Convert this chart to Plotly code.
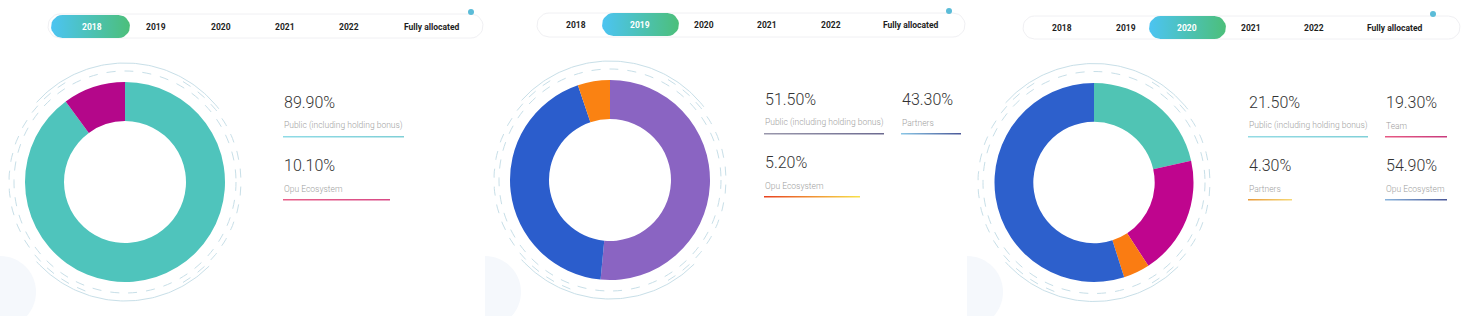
import numpy as np
import plotly.graph_objects as go

W, H = 1480, 316

# ---------------- data ----------------
tab_labels = ["2018", "2019", "2020", "2021", "2022", "Fully allocated"]

p1_labels = ["Public (including holding bonus)", "Opu Ecosystem"]
p1_values = [89.9, 10.1]

p2_labels = ["Public (including holding bonus)", "Partners", "Opu Ecosystem"]
p2_values = [51.5, 43.3, 5.2]

p3_labels = ["Public (including holding bonus)", "Team", "Partners", "Opu Ecosystem"]
p3_values = [21.5, 19.3, 4.3, 54.9]

# ---------------- style ----------------
FONT = "Roboto"
panels = [
    dict(labels=p1_labels, values=p1_values, active=0, left=0,
         colors=["#4fc4bc", "#b4078a"],
         under=[("#8fdbe6", "#7fcfd6"), ("#e8608a", "#d84a86")],
         uw=[121, 107],
         cx=125, cy=182, r=100,
         tx=[283, 283], ty=[102.5, 165.5],
         box=(48, 14, 483, 38), pill=(51, 15, 130, 38),
         tabx=[92, 156, 221, 285, 349, 432], taby=26.5, dot=(471, 12)),
    dict(labels=p2_labels, values=p2_values, active=1, left=485,
         colors=["#8a64c2", "#2b5dcc", "#fa8212"],
         under=[("#9a98ac", "#6c6a90"), ("#8ac6e6", "#4a5898"), ("#e8401e", "#f8e24a")],
         uw=[120, 60, 96],
         cx=610, cy=180, r=100,
         tx=[764, 901, 764], ty=[99.5, 99.5, 162.5],
         box=(537, 13, 965, 37), pill=(602, 13, 679, 36),
         tabx=[576, 640, 704, 767, 831, 911], taby=24.5, dot=(949, 11)),
    dict(labels=p3_labels, values=p3_values, active=2, left=967,
         colors=["#50c4b4", "#bf058e", "#fa7c12", "#2d60cc"],
         under=[("#94dbe4", "#80d0d8"), ("#e85a84", "#c83a7c"), ("#e89a3a", "#f6d876"), ("#8ab4dc", "#4a5898")],
         uw=[120, 62, 44, 62],
         cx=1094, cy=182.5, r=99.5,
         tx=[1248, 1385, 1248, 1385], ty=[102.5, 102.5, 165.5, 165.5],
         box=(1023, 16, 1460, 39), pill=(1149, 16, 1226, 39),
         tabx=[1062, 1126, 1187, 1251, 1314, 1395], taby=27.5, dot=(1433, 14)),
]
HOLE = 0.61
RING = "#c8dfe8"

fig = go.Figure()
shapes = []
annotations = []


def rounded_rect(x0, y0, x1, y1, n=14):
    r = (y1 - y0) / 2.0
    xs, ys = [], []
    t = np.linspace(-np.pi / 2, np.pi / 2, n)
    xs += list(x1 - r + r * np.cos(t)); ys += list((y0 + r) + r * np.sin(t))
    t = np.linspace(np.pi / 2, 3 * np.pi / 2, n)
    xs += list(x0 + r + r * np.cos(t)); ys += list((y0 + r) + r * np.sin(t))
    xs.append(xs[0]); ys.append(ys[0])
    return xs, ys


def arc(cx, cy, r, a0, a1, n=80):
    t = np.radians(np.linspace(a0, a1, n))
    return cx + r * np.sin(t), cy - r * np.cos(t)


def half_disc_path(cx, cy, r):
    k = 0.5523 * r
    return (f"M {cx},{cy - r} C {cx + k},{cy - r} {cx + r},{cy - k} {cx + r},{cy} "
            f"C {cx + r},{cy + k} {cx + k},{cy + r} {cx},{cy + r} Z")


for p in panels:
    cx, cy, r = p["cx"], p["cy"], p["r"]

    # faint background blob at the panel's bottom-left edge
    shapes.append(dict(type="path", xref="x", yref="y", path=half_disc_path(p["left"], 292, 36),
                       line=dict(width=0), fillcolor="#f5f8fc", layer="below"))

    # tab bar outline
    x0, y0, x1, y1 = p["box"]
    bxs, bys = rounded_rect(x0, y0, x1, y1)
    fig.add_trace(go.Scatter(x=bxs, y=bys, mode="lines", fill="toself", fillcolor="white",
                             line=dict(color="#f0f0f3", width=1), hoverinfo="skip", showlegend=False))
    # active pill with gradient
    x0, y0, x1, y1 = p["pill"]
    pxs, pys = rounded_rect(x0, y0, x1, y1)
    fig.add_trace(go.Scatter(x=pxs, y=pys, mode="lines", fill="toself",
                             fillgradient=dict(type="horizontal",
                                               colorscale=[[0, "#4cc4f2"], [1, "#4cbf7a"]]),
                             line=dict(width=0, color="rgba(0,0,0,0)"),
                             hoverinfo="skip", showlegend=False))
    for i, lab in enumerate(tab_labels):
        annotations.append(dict(x=p["tabx"][i], y=p["taby"], xref="x", yref="y", text=f"<b>{lab}</b>",
                                showarrow=False, xanchor="center", yanchor="middle",
                                font=dict(family=FONT, size=8.5,
                                          color="white" if i == p["active"] else "#1e1e1e")))
    dx, dy = p["dot"]
    shapes.append(dict(type="circle", xref="x", yref="y", x0=dx - 3, x1=dx + 3, y0=dy - 3, y1=dy + 3,
                       line=dict(width=0), fillcolor="#5bbcd8"))

    # decorative rings
    shapes.append(dict(type="circle", xref="x", yref="y", x0=cx - 111, x1=cx + 111,
                       y0=cy - 111, y1=cy + 111, line=dict(color=RING, width=1, dash="dash")))
    for a0, a1 in [(200, 330), (30, 150)]:
        ax, ay = arc(cx, cy, 116, a0, a1)
        fig.add_trace(go.Scatter(x=ax, y=ay, mode="lines", line=dict(color=RING, width=1, dash="dash"),
                                 hoverinfo="skip", showlegend=False))
    for a0, a1 in [(-48, 52), (135, 228)]:
        ax, ay = arc(cx, cy, 119, a0, a1)
        fig.add_trace(go.Scatter(x=ax, y=ay, mode="lines", line=dict(color=RING, width=1),
                                 hoverinfo="skip", showlegend=False))

    # donut
    fig.add_trace(go.Pie(
        labels=p["labels"], values=p["values"], hole=HOLE, sort=False, direction="clockwise",
        rotation=0, textinfo="none", hoverinfo="label+percent",
        marker=dict(colors=p["colors"], line=dict(width=0)),
        domain=dict(x=[(cx - r) / W, (cx + r) / W], y=[1 - (cy + r) / H, 1 - (cy - r) / H]),
        showlegend=False))

    # legend-like text blocks
    for i, (lab, val) in enumerate(zip(p["labels"], p["values"])):
        tx, ty = p["tx"][i], p["ty"][i]
        annotations.append(dict(x=tx - 1, y=ty, xref="x", yref="y", text=f"{val:.2f}%", showarrow=False,
                                xanchor="left", yanchor="middle",
                                font=dict(family=FONT, size=16, color="#333333", weight=300)))
        annotations.append(dict(x=tx - 1, y=ty + 23, xref="x", yref="y", text=lab, showarrow=False,
                                xanchor="left", yanchor="middle",
                                font=dict(family=FONT, size=8.5, color="#a0a0a0", weight=300)))
        uy = ty + 33.5
        c0, c1 = p["under"][i]
        w = p["uw"][i]
        fig.add_trace(go.Scatter(x=[tx, tx + w, tx + w, tx, tx], y=[uy, uy, uy + 1.6, uy + 1.6, uy],
                                 mode="lines", fill="toself",
                                 fillgradient=dict(type="horizontal", colorscale=[[0, c0], [1, c1]]),
                                 line=dict(width=0, color="rgba(0,0,0,0)"),
                                 hoverinfo="skip", showlegend=False))

fig.update_layout(
    width=W, height=H, margin=dict(l=0, r=0, t=0, b=0),
    paper_bgcolor="white", plot_bgcolor="rgba(0,0,0,0)",
    xaxis=dict(range=[0, W], visible=False, fixedrange=True, domain=[0, 1]),
    yaxis=dict(range=[H, 0], visible=False, fixedrange=True, domain=[0, 1]),
    shapes=shapes, annotations=annotations, showlegend=False,
    font=dict(family=FONT),
)

fig.write_html("out.html")
